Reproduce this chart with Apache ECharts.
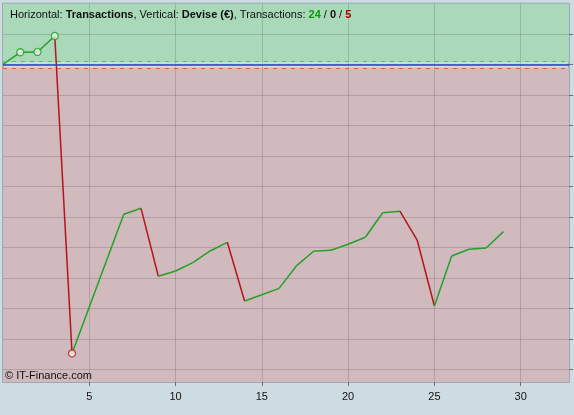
<!DOCTYPE html>
<html><head><meta charset="utf-8">
<script src="https://cdn.jsdelivr.net/npm/echarts@6/dist/echarts.min.js"></script>
<style>html,body{margin:0;padding:0;background:#cddce2;}#c{width:574px;height:415px;}</style>
</head><body><div id="c"></div>
<script>
// ---- data ----
const trades = [0,1,2,3,4,5,6,7,8,9,10,11,12,13,14,15,16,17,18,19,20,21,22,23,24,25,26,27,28,29];
const equity = [10000,10400,10410,10935,520,2040,3565,5085,5280,3050,3225,3500,3880,4165,2240,2445,2655,3390,3870,3905,4100,4330,5135,5185,4240,2075,3715,3935,3980,4515];
const markerTrades = [1,2,3,4];
const xTickValues = [5,10,15,20,25,30];
const yGridValues = [0,1000,2000,3000,4000,5000,6000,7000,8000,9000,10000,11000];
const startCapital = 10000;
const upperBand = 10110;
const lowerBand = 9875;

// ---- build ----
const GREEN = '#23a127', RED = '#b3161c';
let up = 0, flat = 0, down = 0;
const series = [];
for (let i = 0; i < trades.length - 1; i++) {
  const d = equity[i+1] - equity[i];
  if (d > 0) up++; else if (d < 0) down++; else flat++;
  series.push({
    type: 'line', z: 4, silent: true, symbol: 'none', animation: false,
    lineStyle: { color: d >= 0 ? GREEN : RED, width: 1.5 },
    data: [[trades[i], equity[i]], [trades[i+1], equity[i+1]]]
  });
}
// background zones + reference lines
series.push({
  type: 'line', z: 1, silent: true, animation: false, symbol: 'none', data: [],
  markArea: { silent: true, data: [
    [{ yAxis: upperBand - 35, itemStyle: { color: '#a9d9b9' } }, { yAxis: 12000 }],
    [{ yAxis: -418, itemStyle: { color: '#d1babe' } }, { yAxis: lowerBand + 15 }]
  ]}
});
series.push({
  type: 'line', z: 3, silent: true, animation: false, symbol: 'none', data: [],
  markLine: { silent: true, symbol: 'none', label: { show: false }, data: [
    { yAxis: upperBand, lineStyle: { color: '#5cc25c', type: [4, 5], width: 1 } },
    { yAxis: lowerBand, lineStyle: { color: '#e0555a', type: [4, 5], width: 1 } },
    { yAxis: startCapital, lineStyle: { color: '#2b3fc0', type: 'solid', width: 1.5 } }
  ]}
});
// markers
series.push({
  type: 'scatter', z: 5, silent: true, animation: false, symbol: 'circle', symbolSize: 7,
  data: markerTrades.map(t => ({
    value: [t, equity[t]],
    itemStyle: { color: '#eef3ef', borderColor: (equity[t] >= equity[t-1]) ? GREEN : RED, borderWidth: 1.3 }
  }))
});

const chart = echarts.init(document.getElementById('c'), null, { renderer: 'canvas' });
chart.setOption({
  backgroundColor: '#cddce2',
  animation: false,
  grid: { left: 3, right: 5, top: 3.5, bottom: 33, show: true, backgroundColor: '#c8dde1',
          borderColor: 'rgba(90,100,120,0.55)', borderWidth: 1.5 },
  title: {
    left: 5, top: 4,
    text: '{n|Horizontal: }{b|Transactions}{n|, Vertical: }{b|Devise (€)}{n|, Transactions: }{g|' + up + '}{n| / }{b|' + flat + '}{n| / }{r|' + down + '}',
    textStyle: {
      fontWeight: 'normal',
      rich: {
        n: { fontFamily: 'Liberation Sans', fontSize: 11, color: '#111', fontWeight: 'normal' },
        b: { fontFamily: 'Liberation Sans', fontSize: 11, color: '#111', fontWeight: 'bold' },
        g: { fontFamily: 'Liberation Sans', fontSize: 11, color: '#0a9a0a', fontWeight: 'bold' },
        r: { fontFamily: 'Liberation Sans', fontSize: 11, color: '#b00000', fontWeight: 'bold' }
      }
    }
  },
  graphic: [{
    type: 'text', left: 5, top: 370, z: 10,
    style: { text: '© IT-Finance.com', fontFamily: 'Liberation Sans', fontSize: 11, fill: '#111' }
  }],
  xAxis: {
    type: 'value', min: 0, max: 32.8, z: 2, position: 'bottom',
    axisLine: { show: false, onZero: false },
    axisTick: { show: true, customValues: xTickValues, length: 4, lineStyle: { color: '#6a7078' } },
    axisLabel: { customValues: xTickValues, fontFamily: 'Liberation Sans', fontSize: 11, color: '#111', margin: 9 },
    splitLine: { show: true, lineStyle: { color: 'rgba(40,30,40,0.17)', width: 1 } }
  },
  yAxis: {
    type: 'value', position: 'right', min: -418, max: 12000, z: 2,
    axisLine: { show: false, onZero: false },
    axisTick: { show: true, customValues: yGridValues, length: 4, lineStyle: { color: '#6a7078' } },
    axisLabel: { show: false, customValues: yGridValues },
    splitLine: { show: true, lineStyle: { color: 'rgba(40,30,40,0.17)', width: 1 } }
  },
  series: series
});
</script></body></html>
